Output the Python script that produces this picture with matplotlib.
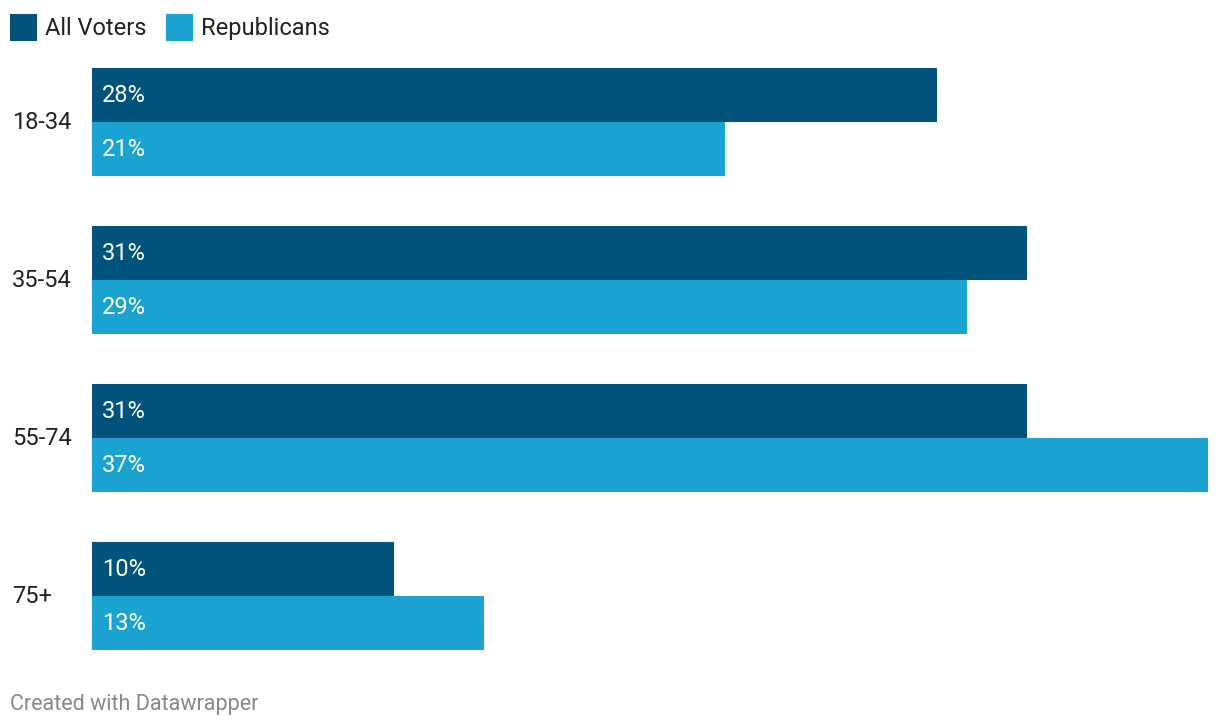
import matplotlib
matplotlib.use("Agg")
import matplotlib.pyplot as plt
import numpy as np

categories = ["18-34", "35-54", "55-74", "75+"]
all_voters = [28, 31, 31, 10]
republicans = [21, 29, 37, 13]
series_names = ["All Voters", "Republicans"]
colors = ["#00547b", "#1aa3d0"]

plt.rcParams['font.family'] = ['Roboto', 'DejaVu Sans']

W, H = 1220, 728
fig = plt.figure(figsize=(W / 100, H / 100), dpi=100)

x0, x1 = 92, 1208
y_top, y_bot = 68, 650
ax = fig.add_axes([x0 / W, 1 - y_bot / H, (x1 - x0) / W, (y_bot - y_top) / H])

bh = 54 / 158
n = len(categories)
ypos = np.arange(n)
ax.barh(ypos - bh / 2, all_voters, height=bh, color=colors[0], linewidth=0)
ax.barh(ypos + bh / 2, republicans, height=bh, color=colors[1], linewidth=0)
ax.set_xlim(0, 37)
ax.set_ylim(n - 1 + bh, -bh)
ax.axis("off")

FS = 17
for i in range(n):
    for val, yy in ((all_voters[i], i - bh / 2), (republicans[i], i + bh / 2)):
        ax.annotate(f"{val}%", xy=(0, yy), xycoords="data",
                    xytext=(10, 2), textcoords="offset pixels",
                    color="white", fontsize=FS, va="center_baseline", ha="left")
    ax.annotate(categories[i], xy=(0, i), xycoords=("figure fraction", "data"),
                xytext=(12, 2), textcoords="offset pixels",
                fontsize=FS, color="#222222", va="center_baseline", ha="left")

# legend
lx = 10
for name, c in zip(series_names, colors):
    fig.patches.append(plt.Rectangle((lx / W, 1 - 41 / H), 27 / W, 27 / H,
                                     transform=fig.transFigure, color=c, linewidth=0))
    t = fig.text((lx + 35) / W, 1 - 26 / H, name, fontsize=FS, color="#222222",
                 va="center_baseline", ha="left")
    fig.canvas.draw()
    bb = t.get_window_extent()
    lx = bb.x1 + 20

fig.text(10 / W, 1 - 702 / H, "Created with Datawrapper", fontsize=15.5,
         color="#888888", va="center_baseline", ha="left")

fig.savefig("out.png", dpi=100, facecolor="white")
